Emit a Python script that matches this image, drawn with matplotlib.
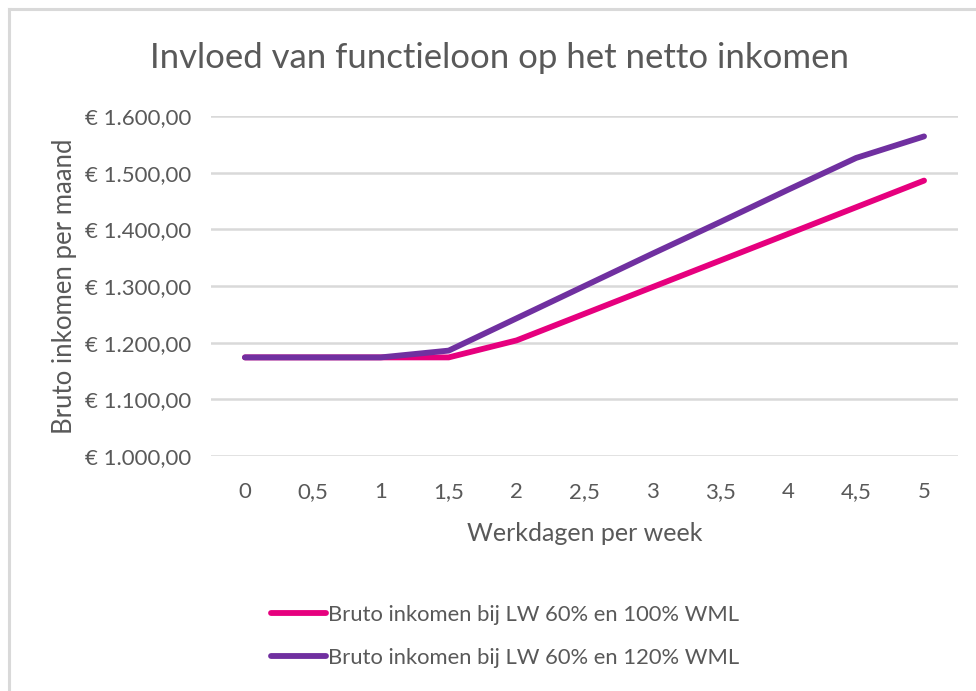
import numpy as np
from matplotlib import pyplot as plt
from matplotlib.lines import Line2D

# data
werkdagen = [0, 0.5, 1, 1.5, 2, 2.5, 3, 3.5, 4, 4.5, 5]
tick_labels = ["0", "0,5", "1", "1,5", "2", "2,5", "3", "3,5", "4", "4,5", "5"]
bruto_100 = [1174, 1174, 1174, 1174, 1204, 1251, 1298, 1345, 1392, 1439, 1486]
bruto_120 = [1174, 1174, 1174, 1186, 1243, 1300, 1357, 1413, 1470, 1526, 1564]
label_100 = "Bruto inkomen bij LW 60% en 100% WML"
label_120 = "Bruto inkomen bij LW 60% en 120% WML"

grey = "#595959"
plt.rcParams['font.family'] = ['Lato', 'DejaVu Sans']

fig = plt.figure(figsize=(9.76, 6.91), dpi=100)
ax = fig.add_axes([211/976, 1 - 456/691, (958 - 211)/976, (456 - 116)/691])

ax.plot(werkdagen, bruto_100, color="#E6007E", lw=4.2, solid_capstyle="round", label=label_100, zorder=3)
ax.plot(werkdagen, bruto_120, color="#7030A0", lw=4.2, solid_capstyle="round", label=label_120, zorder=4)

ax.set_xlim(-0.25, 5.25)
ax.set_ylim(1000, 1600)
ax.set_xticks(werkdagen)
ax.set_xticklabels(tick_labels)
yt = np.arange(1000, 1601, 100)
ax.set_yticks(yt)
ax.set_yticklabels(["€ " + f"{v:,.2f}".replace(",", "X").replace(".", ",").replace("X", ".") for v in yt])
ax.tick_params(length=0, colors=grey, labelsize=16)
ax.tick_params(axis="y", pad=14)
ax.tick_params(axis="x", pad=19)
ax.grid(axis="y", color="#D9D9D9", lw=1.8)
ax.set_axisbelow(True)
for s in ax.spines.values():
    s.set_visible(False)

ax.set_xlabel("Werkdagen per week", color=grey, fontsize=18, labelpad=14)
ax.set_ylabel("Bruto inkomen per maand", color=grey, fontsize=18.5, labelpad=6)
fig.text(500/976, 1 - 58/691, "Invloed van functieloon op het netto inkomen", color=grey,
         fontsize=25, ha="center", va="center")

fig.legend(handles=[Line2D([], [], color="#E6007E", lw=4.2, solid_capstyle="round"),
                    Line2D([], [], color="#7030A0", lw=4.2, solid_capstyle="round")],
           labels=[label_100, label_120], loc="upper left", bbox_to_anchor=(251/976, 1 - 585/691),
           frameon=False, fontsize=15.8, labelcolor=grey, handlelength=2.5, handletextpad=0.12,
           labelspacing=1.05)

# chart border (only top and left visible in the crop)
fig.add_artist(Line2D([9/976, 1], [1 - 9/691, 1 - 9/691], color="#D9D9D9", lw=2.2))
fig.add_artist(Line2D([9/976, 9/976], [0, 1 - 9/691], color="#D9D9D9", lw=2.2))

fig.savefig("out.png", dpi=100)
